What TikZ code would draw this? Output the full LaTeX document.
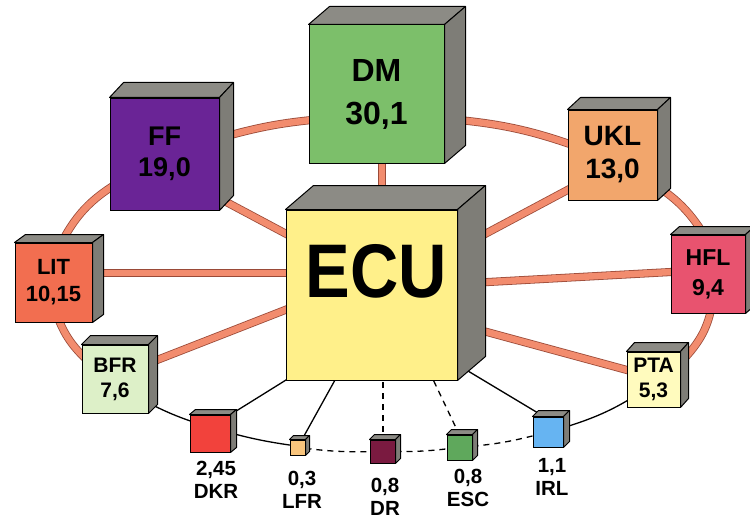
\documentclass[tikz,border=0pt]{standalone}
\usepackage{fontspec}
\setmainfont{Liberation Sans}
\usepackage{graphicx}
\usetikzlibrary{calc}
\pgfdeclarelayer{bg}
\pgfsetlayers{bg,main}
\definecolor{cdm}{HTML}{7CBF6A}
\definecolor{cff}{HTML}{6A2496}
\definecolor{cukl}{HTML}{F2A66C}
\definecolor{cecu}{HTML}{FFF08A}
\definecolor{clit}{HTML}{F26E50}
\definecolor{chfl}{HTML}{E8536F}
\definecolor{cbfr}{HTML}{DDF0C8}
\definecolor{cpta}{HTML}{FFFBBE}
\definecolor{cdkr}{HTML}{F2423C}
\definecolor{clfr}{HTML}{F8C47C}
\definecolor{cdr}{HTML}{7A1A40}
\definecolor{cesc}{HTML}{5FA85C}
\definecolor{cirl}{HTML}{66B4F2}
\definecolor{sidegray}{HTML}{7E7D77}
\definecolor{topgray}{HTML}{8C8B85}
\definecolor{ringfill}{HTML}{F28C6E}
\definecolor{ringedge}{HTML}{9A4A38}
\newcommand\cf[2]{\bfseries\fontsize{#1}{#2}\selectfont}
\tikzset{
  cubeface/.style={draw=black, line width=1pt, inner sep=0pt, align=center, text=black},
  cubetop/.style={fill=topgray, draw=black, line width=1pt, line join=round},
  cubeside/.style={fill=sidegray, draw=black, line width=1pt, line join=round},
  ringline/.style={draw=ringedge, line width=0.8pt, double=ringfill, double distance=6.5pt},
  thinline/.style={draw=black, line width=1.3pt},
  dashline/.style={thinline, dash pattern=on 6pt off 5pt},
  smalllabel/.style={align=center, font=\cf{20.5}{23}},
}
% name, cx, cy, w, h, dx, dy, options, text
\newcommand\drawcube[9]{%
  \node[cubeface, minimum width=#4pt, minimum height=#5pt, #8] (#1) at (#2,#3) {#9};
  \path[cubetop] (#1.north west) -- ++(#6,#7) -- ($(#1.north east)+(#6,#7)$) -- (#1.north east) -- cycle;
  \path[cubeside] (#1.north east) -- ++(#6,#7) -- ($(#1.south east)+(#6,#7)$) -- (#1.south east) -- cycle;
}
\begin{document}
\begin{tikzpicture}[x=1pt,y=-1pt]
\useasboundingbox (0,0) rectangle (750,519);
\drawcube{dm}{376.5}{94}{135}{138}{21}{-18}{fill=cdm, font=\cf{32}{43}}{DM\\30,1}
\drawcube{ff}{164.5}{154}{109}{112}{14}{-15}{fill=cff, font=\cf{27}{31}}{FF\\19,0}
\drawcube{ukl}{612.5}{155}{89}{90}{13}{-12}{fill=cukl, font=\cf{28}{33}}{UKL\\13,0}
\drawcube{ecu}{371.5}{295}{171}{170}{28}{-24}{fill=cecu, font=\cf{76}{80}}{\hspace*{9pt}\raisebox{-2pt}[0pt][0pt]{\scalebox{0.88}[1]{ECU}}}
\drawcube{lit}{53.5}{282.5}{77}{79}{11}{-8}{fill=clit, font=\cf{22}{27}}{LIT\\10,15}
\drawcube{hfl}{708}{274}{74}{78}{9}{-8}{fill=chfl, font=\cf{23}{30}}{HFL\\9,4}
\drawcube{bfr}{115}{379}{66}{68}{9}{-9}{fill=cbfr, font=\cf{21}{25}}{BFR\\7,6}
\drawcube{pta}{653.5}{379.5}{53}{55}{8}{-9}{fill=cpta, font=\cf{21}{25}}{PTA\\5,3}
\drawcube{dkr}{210}{433.5}{40}{37}{6}{-5}{fill=cdkr}{}
\drawcube{lfr}{297.5}{447.5}{15}{15}{4}{-4}{fill=clfr}{}
\drawcube{dr}{382.5}{451.5}{25}{23}{5}{-5}{fill=cdr}{}
\drawcube{esc}{459.5}{447.5}{25}{25}{5}{-5}{fill=cesc}{}
\drawcube{irl}{548}{432}{30}{30}{6}{-6}{fill=cirl}{}
\node[smalllabel] (dkrlabel) at (216,480) {2,45\\DKR};
\node[smalllabel] (lfrlabel) at (302,490) {0,3\\LFR};
\node[smalllabel] (drlabel) at (385,496.5) {0,8\\DR};
\node[smalllabel] (esclabel) at (468,488) {0,8\\ESC};
\node[smalllabel] (irllabel) at (552,477) {1,1\\IRL};
\begin{pgfonlayer}{bg}
% spokes from ECU
\draw[ringline] ($(ecu)+(-79.5,-58)$) -- ($(ff)+(50.5,42)$);
\draw[ringline] ($(ecu)+(10.5,-95)$) -- ($(dm)+(5.5,60)$);
\draw[ringline] ($(ecu)+(98.5,-53)$) -- ($(ukl)+(-37.5,31)$);
\draw[ringline] ($(ecu)+(-80,-22)$) -- ($(lit)+(40,-9.5)$);
\draw[ringline] ($(ecu)+(98.5,-12)$) -- ($(hfl)+(-28,-2.5)$);
\draw[ringline] ($(ecu)+(-79.5,12.3)$) -- ($(bfr)+(30,-14.3)$);
\draw[ringline] ($(ecu)+(98.5,32.4)$) -- ($(pta)+(-18.5,-7.3)$);
% ring
\draw[ringline] ($(lit)+(4.8,-33.4)$) to[bend left=17] ($(ff)+(-42.7,26.6)$);
\draw[ringline] ($(ff)+(53.5,-15.5)$) to[bend left=5.5] ($(dm)+(-49.5,24.6)$);
\draw[ringline] ($(dm)+(66.5,24.6)$) to[bend left=7.7] ($(ukl)+(-26.5,-5.2)$);
\draw[ringline] ($(ukl)+(35.7,25.6)$) to[bend left=14] ($(hfl)+(-0.4,-33.5)$);
\draw[ringline] ($(hfl)+(5,24.6)$) to[bend left=17] ($(pta)+(31.7,-21.9)$);
\draw[ringline] ($(bfr)+(-24.9,-16.1)$) to[bend left=15] ($(lit)+(0.8,24.9)$);
% lower ring
\draw[thinline] ($(bfr)+(6.8,8.4)$) to[bend right=8] ($(dkr)+(8,-4)$);
\draw[thinline] ($(dkr)+(8,-4)$) to[bend right=4] ($(lfr)+(1.1,-1.2)$);
\draw[dashline] (lfr) to[bend right=3.7] (dr);
\draw[dashline] (dr) to[bend right=3.3] (esc);
\draw[dashline] (esc) to[bend right=4.3] (irl);
\draw[thinline] (irl) to[bend right=8.3] ($(pta)+(-5.3,7.9)$);
% lower spokes
\draw[thinline] ($(ecu)+(-76.5,79.4)$) -- ($(dkr)+(15,-15.5)$);
\draw[thinline] ($(ecu)+(-31.5,76)$) -- ($(lfr)+(1.5,-2.5)$);
\draw[dashline] ($(ecu)+(11.5,76)$) -- ($(dr)+(0.5,0)$);
\draw[dashline] ($(ecu)+(57.5,76)$) -- ($(esc)+(2.3,-7.5)$);
\draw[thinline] ($(ecu)+(83.5,68.2)$) -- ($(irl)+(0,-13)$);
\end{pgfonlayer}
\end{tikzpicture}
\end{document}
